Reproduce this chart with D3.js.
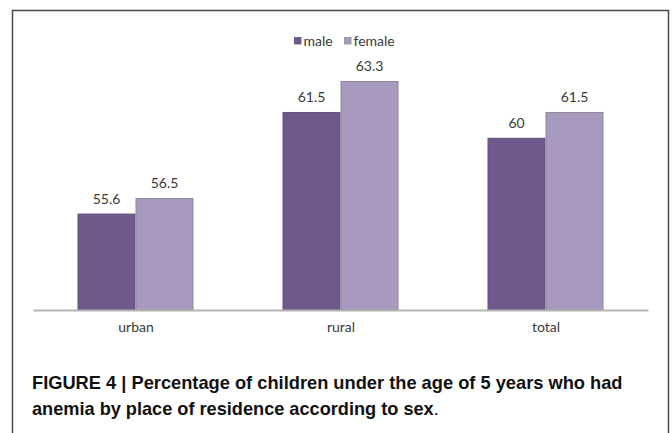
<!DOCTYPE html>
<html>
<head>
<meta charset="utf-8">
<script src="https://cdn.jsdelivr.net/npm/d3@7"></script>
<style>
  html, body { margin: 0; padding: 0; background: #fff; }
  svg { display: block; }
</style>
</head>
<body>
<svg id="chart" width="672" height="433"></svg>
<script>
// ---- data ----
const categories = ["urban", "rural", "total"];
const seriesNames = ["male", "female"];
const maleValues = [55.6, 61.5, 60];
const femaleValues = [56.5, 63.3, 61.5];
const valueLabels = {
  male: ["55.6", "61.5", "60"],
  female: ["56.5", "63.3", "61.5"]
};
const captionLine1 = "FIGURE 4 | Percentage of children under the age of 5 years who had";
const captionLine2 = "anemia by place of residence according to sex";

// ---- styles ----
const colors = { male: "#70588c", female: "#a899be" };
const strokes = { male: "#62507a", female: "#8e8898" };
const chartFont = "Lato, 'Open Sans', sans-serif";

const svg = d3.select("#chart");

// outer frame
svg.append("path")
  .attr("d", "M12.5,433 L12.5,10.5 L668.5,10.5 L668.5,433")
  .attr("fill", "none")
  .attr("stroke", "#4a4a4a")
  .attr("stroke-width", 1.5);

// scales
const x0 = d3.scalePoint().domain(categories).range([33, 648]).padding(0.5);
const x1 = d3.scaleBand().domain(seriesNames).range([-58, 58]).padding(0);
const y = d3.scaleLinear().domain([50, 65]).range([310, 51.7]);

const rows = categories.map((c, i) => ({
  cat: c,
  values: [
    { key: "male", value: maleValues[i], label: valueLabels.male[i] },
    { key: "female", value: femaleValues[i], label: valueLabels.female[i] }
  ]
}));

const groups = svg.append("g").selectAll("g")
  .data(rows).join("g")
  .attr("transform", d => `translate(${x0(d.cat)},0)`);

groups.selectAll("rect")
  .data(d => d.values).join("rect")
  .attr("x", d => x1(d.key) + 0.5)
  .attr("y", d => y(d.value) + 0.5)
  .attr("width", x1.bandwidth() - 1)
  .attr("height", d => y.range()[0] - y(d.value) - 0.5)
  .attr("fill", d => colors[d.key])
  .attr("stroke", d => strokes[d.key])
  .attr("stroke-width", 1);

groups.selectAll("text.val")
  .data(d => d.values).join("text")
  .attr("class", "val")
  .attr("x", d => x1(d.key) + x1.bandwidth() / 2)
  .attr("y", d => y(d.value) - 10)
  .attr("text-anchor", "middle")
  .attr("font-family", chartFont)
  .attr("font-size", 14)
  .attr("fill", "#3a3a3a")
  .text(d => d.label);

// x axis
const axis = svg.append("g")
  .attr("transform", "translate(0,310)")
  .call(d3.axisBottom(x0).tickSize(0).tickSizeOuter(0).tickPadding(0));
axis.select(".domain").attr("stroke", "#b4b4b4").attr("stroke-width", 2);
axis.selectAll(".tick text")
  .attr("dy", null)
  .attr("y", 21.5)
  .attr("font-family", chartFont)
  .attr("font-size", 14)
  .attr("fill", "#3a3a3a");

// legend
const legendItems = [
  { key: "male", x: 294, label: "male" },
  { key: "female", x: 344, label: "female" }
];
const lg = svg.append("g").selectAll("g").data(legendItems).join("g")
  .attr("transform", d => `translate(${d.x},41)`);
lg.append("rect")
  .attr("x", 0.5).attr("y", -3.5)
  .attr("width", 6.5).attr("height", 6.5)
  .attr("fill", d => colors[d.key])
  .attr("stroke", d => strokes[d.key])
  .attr("stroke-width", 0.8);
lg.append("text")
  .attr("x", 9.5).attr("y", 4.8)
  .attr("font-family", chartFont)
  .attr("font-size", 14)
  .attr("fill", "#3a3a3a")
  .text(d => d.label);

// caption (horizontally scaled to match the reference's condensed face)
const capFont = "'Liberation Sans', Arial, sans-serif";
function fitText(sel, x, yy, target) {
  const len = sel.node().getComputedTextLength();
  sel.attr("transform", `translate(${x},${yy}) scale(${target / len},1)`);
}
const cap1 = svg.append("text")
  .attr("font-family", capFont)
  .attr("font-weight", "bold")
  .attr("font-size", 19)
  .attr("fill", "#111")
  .text(captionLine1);
fitText(cap1, 32, 389, 591);

const cap2 = svg.append("text")
  .attr("font-family", capFont)
  .attr("font-size", 19)
  .attr("fill", "#111");
cap2.append("tspan").attr("font-weight", "bold").text(captionLine2);
cap2.append("tspan").attr("font-weight", "normal").text(".");
fitText(cap2, 32, 415, 407);
</script>
</body>
</html>
